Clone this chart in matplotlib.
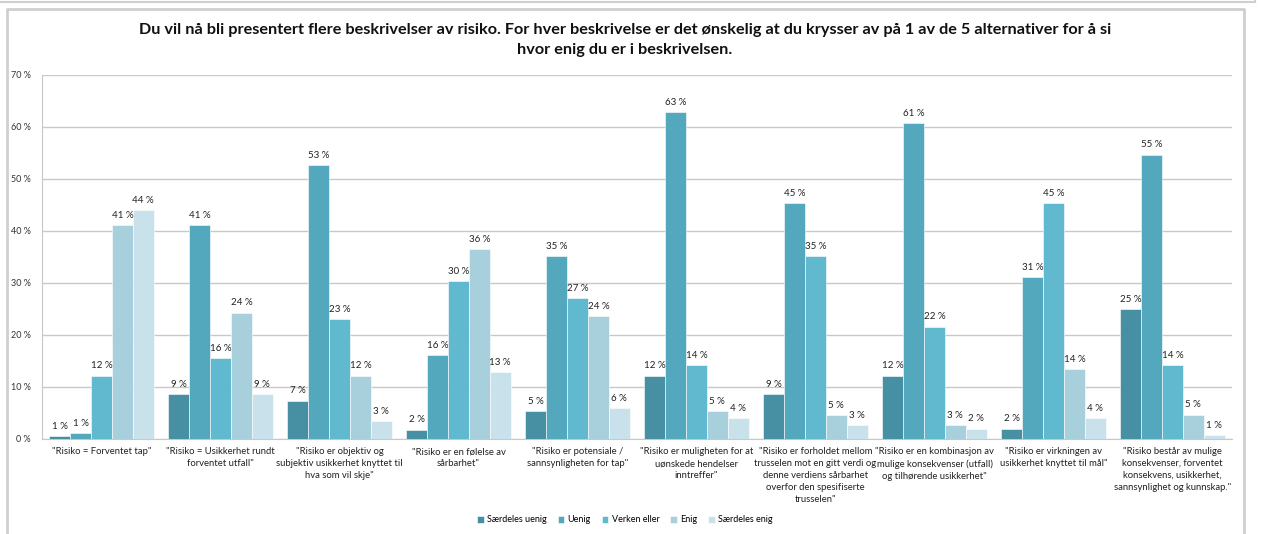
"""
Risikobeskrivelser - grouped bar chart
"""

import numpy as np
import matplotlib
matplotlib.use('Agg')
import matplotlib.pyplot as plt
from matplotlib.lines import Line2D

plt.rcParams['font.family'] = ['Lato', 'DejaVu Sans']

categories = [
    '"Risiko = Forventet tap"',
    '"Risiko = Usikkerhet rundt\nforventet utfall"',
    '"Risiko er objektiv og\nsubjektiv usikkerhet knyttet til\nhva som vil skje"',
    '"Risiko er en følelse av\nsårbarhet"',
    '"Risiko er potensiale /\nsannsynligheten for tap"',
    '"Risiko er muligheten for at\nuønskede hendelser\ninntreffer"',
    '"Risiko er forholdet mellom\ntrusselen mot en gitt verdi og\ndenne verdiens sårbarhet\noverfor den spesifiserte\ntrusselen"',
    '"Risiko er en kombinasjon av\nmulige konsekvenser (utfall)\nog tilhørende usikkerhet"',
    '"Risiko er virkningen av\nusikkerhet knyttet til mål"',
    '"Risiko består av mulige\nkonsekvenser, forventet\nkonsekvens, usikkerhet,\nsannsynlighet og kunnskap."',
]

series_names = ['Særdeles uenig', 'Uenig', 'Verken eller', 'Enig', 'Særdeles enig']

saerdeles_uenig = [0.6, 8.7, 7.4, 1.8, 5.3, 12.2, 8.7, 12.2, 2.0, 25.0]
uenig = [1.2, 41.2, 52.7, 16.2, 35.2, 62.9, 45.3, 60.8, 31.1, 54.7]
verken_eller = [12.2, 15.5, 23.0, 30.3, 27.1, 14.2, 35.2, 21.6, 45.3, 14.2]
enig = [41.2, 24.3, 12.2, 36.5, 23.6, 5.3, 4.6, 2.7, 13.5, 4.7]
saerdeles_enig = [44.0, 8.7, 3.4, 12.8, 6.0, 4.0, 2.7, 2.0, 4.0, 0.7]

colors = ['#478fa2', '#53a8bd', '#60b9cf', '#a7cfdc', '#c8e1ea']

title = ('Du vil nå bli presentert flere beskrivelser av risiko. For hver beskrivelse er det ønskelig at du krysser av på 1 av de 5 alternativer for å si\n'
         'hvor enig du er i beskrivelsen.')


def main():
    fig = plt.figure(figsize=(12.63, 5.34), dpi=100)
    W, H = 1263, 534

    # frame lines (screenshot border)
    fig.add_artist(Line2D([0, 1255 / W], [1 - 2 / H, 1 - 2 / H], color='#cfcfcf', lw=1.5))
    fig.add_artist(Line2D([1255 / W, 1255 / W], [1 - 2 / H, 1], color='#cfcfcf', lw=1.5))
    fig.add_artist(Line2D([7 / W, 7 / W, 1244 / W, 1244 / W],
                          [0, 1 - 9 / H, 1 - 9 / H, 0], color='#cfcfcf', lw=2))

    ax = fig.add_axes([42 / W, 1 - 439 / H, (1232 - 42) / W, (439 - 75) / H])

    data = [saerdeles_uenig, uenig, verken_eller, enig, saerdeles_enig]
    x = np.arange(len(categories))
    bw = 0.175
    for i, (name, vals, c) in enumerate(zip(series_names, data, colors)):
        pos = x + (i - 2) * bw
        bars = ax.bar(pos, vals, width=bw, color=c, label=name, edgecolor='white', linewidth=0.4, zorder=3)
        for b, v in zip(bars, vals):
            ax.text(b.get_x() + b.get_width() / 2, v + 1.0, f'{round(v):.0f} %',
                    ha='center', va='bottom', fontsize=7, color='#222222', zorder=4)

    ax.set_xlim(-0.5, len(categories) - 0.5)
    ax.set_ylim(0, 70)
    ax.set_yticks(range(0, 71, 10))
    ax.set_yticklabels([f'{t} %' for t in range(0, 71, 10)], fontsize=6.5, color='#333333')
    ax.yaxis.grid(True, color='#c8c8c8', lw=1, zorder=0)
    ax.tick_params(axis='y', length=0, pad=8)
    ax.tick_params(axis='x', length=0, pad=6)
    ax.set_xticks(x)
    ax.set_xticklabels(categories, fontsize=6.8, color='#222222', linespacing=1.4)
    for s in ['top', 'right']:
        ax.spines[s].set_visible(False)
    ax.spines['left'].set_color('#c8c8c8')
    ax.spines['bottom'].set_color('#c8c8c8')

    fig.text(625 / W, 1 - 40 / H, title, ha='center', va='center', fontsize=11.7,
             fontweight='bold', color='#111111', linespacing=1.5)

    fig.legend(loc='center', bbox_to_anchor=(625 / W, 1 - 520 / H), ncol=5, frameon=False,
               fontsize=6.5, handlelength=0.7, handleheight=0.7, handletextpad=0.4,
               columnspacing=1.2)

    plt.savefig('out.png', dpi=100)


if __name__ == '__main__':
    main()
